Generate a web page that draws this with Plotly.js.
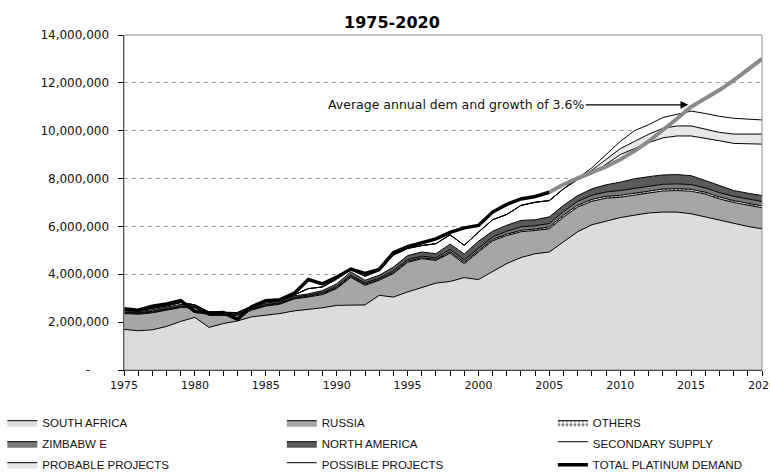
<!DOCTYPE html>
<html>
<head>
<meta charset="utf-8">
<script src="https://cdn.plot.ly/plotly-3.0.1.min.js"></script>
<style>html,body{margin:0;padding:0;background:#fff;}#chart{width:770px;height:473px;}</style>
</head>
<body>
<div id="chart"></div>
<script>
// Values in million ounces
const years = [1975,1976,1977,1978,1979,1980,1981,1982,1983,1984,1985,1986,1987,1988,1989,1990,1991,1992,1993,1994,1995,1996,1997,1998,1999,2000,2001,2002,2003,2004,2005,2006,2007,2008,2009,2010,2011,2012,2013,2014,2015,2016,2017,2018,2019,2020];
const southAfrica = [1.70,1.64,1.68,1.82,2.03,2.20,1.78,1.94,2.05,2.22,2.29,2.36,2.47,2.53,2.60,2.70,2.72,2.72,3.12,3.05,3.26,3.46,3.63,3.70,3.86,3.78,4.10,4.45,4.70,4.86,4.93,5.37,5.78,6.07,6.23,6.37,6.47,6.56,6.60,6.60,6.53,6.39,6.25,6.11,6.00,5.90];
const russia = [0.66,0.69,0.71,0.68,0.58,0.40,0.50,0.34,0.23,0.28,0.38,0.39,0.50,0.52,0.55,0.70,1.15,0.82,0.63,0.98,1.24,1.19,0.95,1.18,0.58,1.15,1.30,1.17,1.08,0.97,0.97,1.02,1.03,0.98,0.95,0.85,0.83,0.84,0.88,0.90,0.94,0.96,0.90,0.89,0.88,0.88];
const others = [0.03,0.03,0.03,0.03,0.03,0.03,0.03,0.03,0.03,0.03,0.03,0.03,0.03,0.03,0.04,0.04,0.04,0.04,0.04,0.04,0.04,0.04,0.04,0.06,0.06,0.06,0.06,0.06,0.06,0.06,0.08,0.08,0.08,0.08,0.08,0.08,0.08,0.08,0.08,0.08,0.08,0.08,0.08,0.08,0.08,0.08];
const zimbabwe = [0.03,0.03,0.03,0.03,0.03,0.03,0.03,0.03,0.03,0.03,0.03,0.03,0.03,0.05,0.05,0.05,0.05,0.05,0.05,0.07,0.07,0.07,0.07,0.10,0.10,0.10,0.10,0.12,0.14,0.14,0.14,0.15,0.16,0.17,0.18,0.20,0.20,0.20,0.20,0.20,0.20,0.18,0.18,0.18,0.18,0.18];
const northAmerica = [0.06,0.05,0.07,0.06,0.07,0.04,0.04,0.04,0.04,0.06,0.07,0.07,0.07,0.05,0.08,0.11,0.14,0.12,0.12,0.16,0.17,0.17,0.17,0.22,0.25,0.29,0.24,0.25,0.27,0.25,0.28,0.26,0.24,0.27,0.30,0.35,0.41,0.40,0.39,0.39,0.37,0.31,0.30,0.24,0.25,0.25];
const secondarySupply = [0.04,0.04,0.06,0.06,0.08,0.02,0.04,0.02,0.02,0.04,0.06,0.04,0.04,0.22,0.15,0.20,0.09,0.17,0.19,0.50,0.30,0.27,0.42,0.39,0.36,0.38,0.48,0.45,0.63,0.73,0.68,0.69,0.66,0.63,0.86,1.15,1.26,1.42,1.55,1.61,1.66,1.77,1.87,1.97,2.05,2.15];
const probableProjects = [0,0,0,0,0,0,0,0,0,0,0,0,0,0,0,0,0,0,0,0,0,0,0,0,0,0,0,0,0,0,0,0,0.05,0.15,0.20,0.25,0.30,0.35,0.40,0.42,0.42,0.38,0.35,0.39,0.42,0.42];
const possibleProjects = [0,0,0,0,0,0,0,0,0,0,0,0,0,0,0,0,0,0,0,0,0,0,0,0,0,0,0,0,0,0,0,0,0,0.10,0.20,0.30,0.45,0.40,0.45,0.50,0.62,0.65,0.67,0.66,0.61,0.59];
const demandYears = [1975,1976,1977,1978,1979,1980,1981,1982,1983,1984,1985,1986,1987,1988,1989,1990,1991,1992,1993,1994,1995,1996,1997,1998,1999,2000,2001,2002,2003,2004,2005];
const totalDemand = [2.56,2.50,2.67,2.76,2.90,2.45,2.38,2.40,2.12,2.64,2.90,2.94,3.20,3.78,3.60,3.88,4.22,4.04,4.20,4.90,5.15,5.33,5.48,5.75,5.94,6.04,6.60,6.92,7.15,7.25,7.43];
const growthYears = [2005,2006,2007,2008,2009,2010,2011,2012,2013,2014,2015,2016,2017,2018,2019,2020];
const demandGrowth = [7.43,7.75,8.02,8.25,8.50,8.80,9.15,9.55,10.0,10.5,11.0,11.35,11.7,12.1,12.55,13.0];
const xTicks = [1975,1980,1985,1990,1995,2000,2005,2010,2015,2020];
const yTicks = [0,2,4,6,8,10,12,14];
const yTickText = ['-\u00a0\u00a0\u00a0\u00a0\u00a0','2,000,000','4,000,000','6,000,000','8,000,000','10,000,000','12,000,000','14,000,000'];

const WIDE = 'DejaVu Sans, Verdana, sans-serif';

function area(name, y, fill, legend, extra) {
  const t = {
    type: 'scatter', mode: 'lines', name: name, x: years, y: y,
    stackgroup: 'supply', line: {color: '#000', width: 1},
    fillcolor: fill, legend: legend, legendgroup: name, hoverinfo: 'skip'
  };
  return Object.assign(t, extra || {});
}

const data = [
  area('SOUTH AFRICA', southAfrica, '#dcdcdc', 'legend'),
  area('RUSSIA', russia, '#a6a6a6', 'legend2'),
  area('OTHERS', others, '#ffffff', 'legend3', {fillpattern: {shape: '.', fgcolor: '#777', bgcolor: '#fff', size: 4, solidity: 0.4}}),
  area('ZIMBABW E', zimbabwe, '#7a7a7a', 'legend'),
  area('NORTH AMERICA', northAmerica, '#5a5a5a', 'legend2'),
  area('SECONDARY SUPPLY', secondarySupply, '#ffffff', 'legend3'),
  area('PROBABLE PROJECTS', probableProjects, '#e8e8e8', 'legend'),
  area('POSSIBLE PROJECTS', possibleProjects, '#ffffff', 'legend2'),
  {type: 'scatter', mode: 'lines', name: 'TOTAL PLATINUM DEMAND', x: demandYears, y: totalDemand,
   line: {color: '#000', width: 3.5}, legend: 'legend3', legendgroup: 'demand', hoverinfo: 'skip'},
  {type: 'scatter', mode: 'lines', name: 'growth', x: growthYears, y: demandGrowth,
   line: {color: '#8a8a8a', width: 4}, showlegend: false, hoverinfo: 'skip'}
];

const legendBase = {xref: 'container', yref: 'container', y: 0.137, yanchor: 'top', xanchor: 'left',
  font: {size: 11.5, color: '#111'}, bgcolor: 'rgba(0,0,0,0)', traceorder: 'grouped', tracegroupgap: 2, itemwidth: 30};

const layout = {
  width: 770, height: 473,
  margin: {l: 124, r: 8, t: 35, b: 103, autoexpand: false},
  paper_bgcolor: '#fff', plot_bgcolor: '#fff',
  font: {family: 'Liberation Sans, Arial, sans-serif', color: '#111', size: 12},
  title: {text: '<b>1975-2020</b>', x: 0.509, xref: 'container', xanchor: 'center', y: 0.953, yref: 'container', yanchor: 'middle', font: {family: WIDE, size: 16, color: '#000'}},
  showlegend: true,
  legend: Object.assign({}, legendBase, {x: 0.003}),
  legend2: Object.assign({}, legendBase, {x: 0.366}),
  legend3: Object.assign({}, legendBase, {x: 0.718}),
  xaxis: {
    range: [1975, 2020], tickvals: xTicks, ticks: 'outside', ticklen: 5, tickcolor: '#000', tickwidth: 1,
    showline: true, linecolor: '#000', linewidth: 1, showgrid: false, zeroline: false, automargin: false,
    minor: {dtick: 1, tick0: 1975, ticks: 'outside', ticklen: 5, tickcolor: '#000', showgrid: false},
    tickfont: {family: WIDE, size: 11, color: '#111'}, tickangle: 0, ticklabeloverflow: 'allow'
  },
  yaxis: {
    range: [0, 14], tickvals: yTicks, ticktext: yTickText, ticks: 'outside', ticklen: 5, tickcolor: '#000',
    showline: true, linecolor: '#222', linewidth: 1.5, showgrid: true, gridcolor: '#9a9a9a', griddash: '4px,4px', gridwidth: 1,
    zeroline: false, automargin: false, ticklabelstandoff: 6, tickfont: {family: WIDE, size: 12, color: '#111'}
  },
  shapes: [{type: 'rect', xref: 'paper', yref: 'paper', x0: 0, x1: 1, y0: 0, y1: 1, line: {color: '#8a8a8a', width: 1}, layer: 'above'}],
  annotations: [
    {
      x: 2014.8, y: 11.08, xref: 'x', yref: 'y', text: 'Average annual dem and growth of 3.6%',
      showarrow: true, arrowhead: 2, arrowsize: 1.3, arrowwidth: 1.2, arrowcolor: '#000', ax: -232, ay: 0,
      font: {family: WIDE, size: 12.5, color: '#111'}
    },
    {
      x: 0.0195, y: 0.567, xref: 'container', yref: 'container', text: 'Platinum ounces', textangle: -90,
      showarrow: false, xanchor: 'center', yanchor: 'middle', font: {family: WIDE, size: 12.5, color: '#111'}
    }
  ]
};

Plotly.newPlot('chart', data, layout, {staticPlot: true, displayModeBar: false});
</script>
</body>
</html>
